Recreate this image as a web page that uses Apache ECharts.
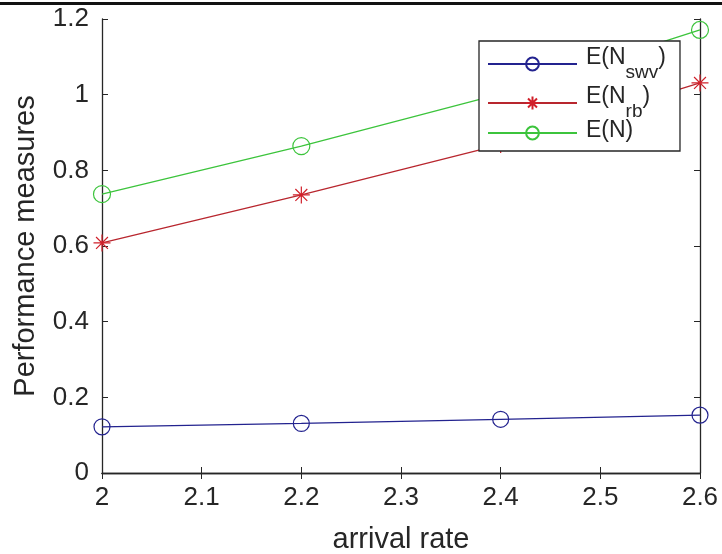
<html lang="en">
<head>
<meta charset="UTF-8">
<title>Performance measures</title>
<script src="https://cdn.jsdelivr.net/npm/echarts@6/dist/echarts.min.js"></script>
<style>
html, body { margin: 0; padding: 0; background: #fff; }
#main { width: 722px; height: 554px; }
</style>
</head>
<body>
<div id="main"></div>
<script type="text/javascript">
// data
var rates = [2.0, 2.2, 2.4, 2.6];
var nSwv = [0.122, 0.131, 0.142, 0.153];
var nRb = [0.608, 0.735, 0.868, 1.031];
var nTotal = [0.737, 0.864, 1.002, 1.171];
var seriesNames = ['E(N_swv)', 'E(N_rb)', 'E(N)'];
var xTicks = [2, 2.1, 2.2, 2.3, 2.4, 2.5, 2.6];

function pairs(ys) {
	return rates.map(function (x, i) { return [x, ys[i]]; });
}

var axisColor = '#262626';
var font = 'Liberation Sans';
var starPath = 'path://M0,-10L0,10M-10,0L10,0M-7,-7L7,7M-7,7L7,-7';

var chart = echarts.init(document.getElementById('main'));

function boxAxis(extra) {
	var a = {
		axisLine: { show: true, lineStyle: { color: axisColor, width: 1.3 } },
		axisTick: { show: true, inside: true, length: 6, lineStyle: { color: axisColor, width: 1 } },
		splitLine: { show: false },
		axisLabel: { show: false }
	};
	for (var k in extra) a[k] = extra[k];
	return a;
}

// one legend per entry, so each row can sit where it does in the figure;
// the first one also draws the white framed box behind all three
var legendTops = [41, 85, 119];
function legendRow(i) {
	var l = {
		orient: 'vertical',
		left: 479,
		top: legendTops[i],
		padding: [0, 0, 0, 8],
		itemWidth: 89,
		itemHeight: 16,
		data: [seriesNames[i]],
		formatter: function (name) {
			var parts = name.split('_');
			if (parts.length === 1) return '{n|' + name + '}';
			var sub = parts[1].replace(')', '');
			return '{m|' + parts[0] + '}{s|' + sub + '}{e|)}';
		},
		textStyle: {
			color: axisColor,
			fontFamily: font,
			rich: {
				m: { fontSize: 23, fontFamily: font, color: axisColor, verticalAlign: 'top', lineHeight: 28, padding: [0, 0, 0, 4] },
				e: { fontSize: 23, fontFamily: font, color: axisColor, verticalAlign: 'top', lineHeight: 28 },
				s: { fontSize: 19, fontFamily: font, color: axisColor, verticalAlign: 'bottom', lineHeight: 36 },
				n: { fontSize: 23, fontFamily: font, color: axisColor, verticalAlign: 'top', lineHeight: 28, padding: [0, 0, 4, 4] }
			}
		}
	};
	if (i === 0) {
		l.padding = [5, 14, 69, 8];
		l.borderColor = axisColor;
		l.borderWidth = 1.3;
		l.borderRadius = 0;
		l.backgroundColor = '#fff';
	}
	return l;
}

var option = {
	backgroundColor: '#fff',
	animation: false,
	textStyle: { fontFamily: font },
	grid: { left: 102, right: 22, top: 19, bottom: 81, containLabel: false, outerBoundsMode: 'none' },
	graphic: [{
		type: 'rect',
		shape: { x: 0, y: 2, width: 722, height: 3 },
		style: { fill: '#111' }
	}],
	legend: [legendRow(0), legendRow(1), legendRow(2)],
	xAxis: [
		boxAxis({
			type: 'value',
			min: 2,
			max: 2.6,
			interval: 0.1,
			position: 'bottom',
			name: 'arrival rate',
			nameLocation: 'middle',
			nameGap: 52,
			nameTextStyle: { fontSize: 29, color: axisColor, fontFamily: font },
			axisLabel: {
				show: true,
				fontSize: 26,
				color: axisColor,
				margin: 12,
				formatter: function (v) {
					var t = xTicks.filter(function (x) { return Math.abs(x - v) < 1e-6; });
					return t.length ? String(t[0]) : '';
				}
			}
		}),
		boxAxis({ type: 'value', min: 2, max: 2.6, interval: 0.1, position: 'top' })
	],
	yAxis: [
		boxAxis({
			type: 'value',
			min: 0,
			max: 1.2,
			interval: 0.2,
			position: 'left',
			name: 'Performance measures',
			nameLocation: 'middle',
			nameGap: 62,
			nameTextStyle: { fontSize: 29, color: axisColor, fontFamily: font },
			axisLabel: {
				show: true,
				fontSize: 26,
				color: axisColor,
				margin: 13,
				formatter: function (v) { return String(Math.round(v * 10) / 10); }
			}
		}),
		boxAxis({ type: 'value', min: 0, max: 1.2, interval: 0.2, position: 'right' })
	],
	series: [{
		name: seriesNames[0],
		type: 'line',
		data: pairs(nSwv),
		symbol: 'circle',
		symbolSize: 16,
		lineStyle: { color: '#23238f', width: 1.3 },
		itemStyle: { color: 'rgba(255,255,255,0)', borderColor: '#23238f', borderWidth: 1.2 }
	}, {
		name: seriesNames[1],
		type: 'line',
		data: pairs(nRb),
		symbol: starPath,
		symbolSize: 17,
		lineStyle: { color: '#b8262e', width: 1.3 },
		itemStyle: { color: 'rgba(255,255,255,0)', borderColor: '#d0202a', borderWidth: 1.2 }
	}, {
		name: seriesNames[2],
		type: 'line',
		data: pairs(nTotal),
		symbol: 'circle',
		symbolSize: 17,
		lineStyle: { color: '#3cc43c', width: 1.3 },
		itemStyle: { color: 'rgba(255,255,255,0)', borderColor: '#3cc43c', borderWidth: 1.2 }
	}]
};
chart.setOption(option);
</script>
</body>
</html>
